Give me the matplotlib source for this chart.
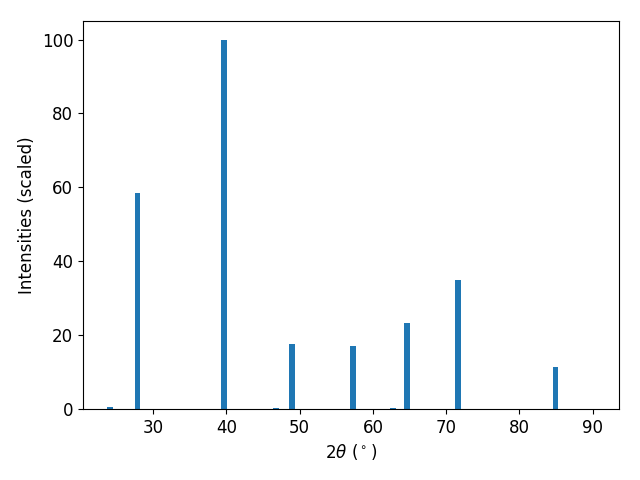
import matplotlib
matplotlib.use("Agg")
import matplotlib.pyplot as plt

# peak positions (2theta, degrees) and scaled intensities
two_theta = [24.1, 27.85, 39.65, 46.8, 48.95, 57.25, 62.75, 64.6, 71.6, 84.95]
intensity = [0.6, 58.5, 100.0, 0.3, 17.6, 17.1, 0.3, 23.3, 35.0, 11.4]

plt.rcParams["font.size"] = 12

fig, ax = plt.subplots(figsize=(6.4, 4.8), dpi=100)
ax.bar(two_theta, intensity, width=0.8)
ax.set_xlim(20.4, 93.6)
ax.set_xlabel(r"2$\theta$ ($^\circ$)")
ax.set_ylabel("Intensities (scaled)")
fig.subplots_adjust(left=0.1297, right=0.967, top=0.956, bottom=0.148)
fig.savefig("out.png", dpi=100)
